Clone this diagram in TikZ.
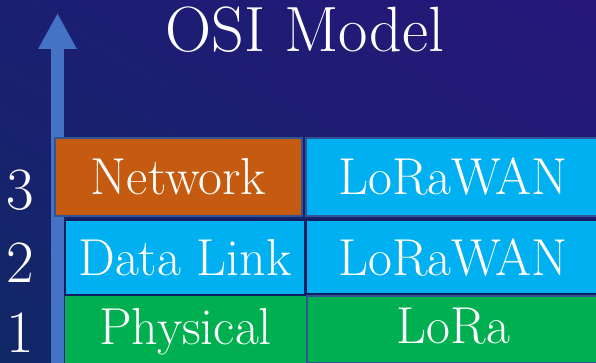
\documentclass[tikz,border=0pt]{standalone}
\usetikzlibrary{arrows.meta,shadings}

\definecolor{osiorange}{HTML}{C55A11}
\definecolor{osicyan}{HTML}{00B0F0}
\definecolor{osigreen}{HTML}{00B050}
\definecolor{osiarrow}{HTML}{4472C4}
\definecolor{osiedge}{HTML}{2F5597}
\definecolor{osinavy}{HTML}{0E1E5E}
\definecolor{bgul}{RGB}{27,31,114}
\definecolor{bgur}{RGB}{38,22,122}
\definecolor{bgll}{RGB}{17,40,102}
\definecolor{bglr}{RGB}{28,30,112}

\tikzset{
  layer/.style={draw=osiedge, line width=1.5pt, inner sep=0pt, text=white,
    font=\fontsize{52}{54}\selectfont, text height=36pt, text depth=0pt},
  level/.style={text=white, font=\fontsize{60}{62}\selectfont, anchor=base, inner sep=0pt},
}

\begin{document}
\begin{tikzpicture}[x=1pt,y=-1pt]
            \useasboundingbox (0,0) rectangle (596,363);

            \shade[upper left=bgul, upper right=bgur, lower left=bgll, lower right=bglr]
            (0,0) rectangle (596,363); % background

            \coordinate (axisfoot) at (57.5,370);
            \coordinate (axistop) at (57.5,13);
            \draw[osiarrow, line width=13pt, -{Triangle[width=36pt,length=36pt]}]
            (axisfoot) -- (axistop); % layer axis

            \node (title) [anchor=base, text=white, font=\fontsize{64}{66}\selectfont, inner sep=0pt]
            at (305,52) {OSI Model};

            % layer 3
            \node (network) [layer, fill=osiorange, minimum width=247pt, minimum height=78pt]
            at (178.5,177) {Network};
            \node (wan3) [layer, fill=osicyan, minimum width=294pt, minimum height=78pt]
            at (453,177) {LoRaWAN};

            % layer 2
            \node (datalink) [layer, draw=osinavy, fill=osicyan, minimum width=240pt, minimum height=75pt]
            at (185,257.5) {Data Link};
            \node (wan2) [layer, draw=osinavy, fill=osicyan, minimum width=294pt, minimum height=74pt]
            at (453,257) {LoRaWAN};

            % layer 1
            \node (physical) [layer, draw=osigreen, fill=osigreen, text height=28pt, minimum width=239pt, minimum height=66pt]
            at (185.5,330) {Physical};
            \node (lora) [layer, fill=osigreen, text height=28pt, minimum width=293pt, minimum height=67pt]
            at (453.5,329.5) {LoRa};

            \node (num3) [level] at (20,210) {3};
            \node (num2) [level] at (20,282) {2};
            \node (num1) [level] at (20,352) {1};
\end{tikzpicture}
\end{document}
